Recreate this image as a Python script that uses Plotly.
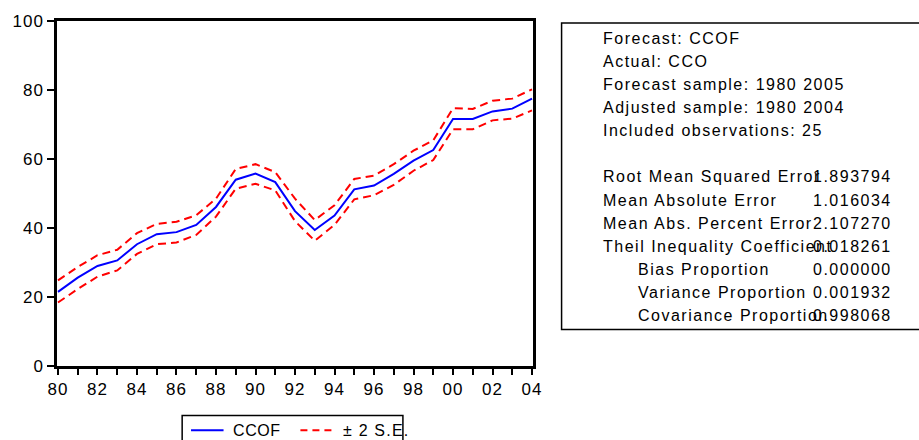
import plotly.graph_objects as go

# Forecast series and its +/- 2 standard error band
years = list(range(1980, 2005))
ccof = [21.5, 25.6, 29.0, 30.6, 35.3, 38.2, 38.8, 40.9, 46.1, 54.0, 55.8, 53.3, 44.9,
        39.4, 43.6, 51.2, 52.3, 55.7, 59.5, 62.6, 71.6, 71.6, 73.8, 74.6, 77.5]
upper = [24.8, 28.7, 32.1, 33.7, 38.5, 41.2, 41.8, 43.7, 48.5, 57.1, 58.5, 56.2, 48.5,
         42.3, 46.6, 54.2, 55.2, 58.5, 62.4, 65.4, 74.7, 74.5, 76.9, 77.5, 80.2]
lower = [18.4, 22.3, 25.9, 27.7, 32.5, 35.3, 35.8, 38.0, 43.3, 51.4, 52.8, 50.9, 42.0,
         36.3, 40.9, 48.3, 49.5, 52.5, 56.6, 59.7, 68.6, 68.6, 71.2, 71.7, 74.1]

y_ticks = [0, 20, 40, 60, 80, 100]
x_tick_labels = [str(y)[2:] if y % 2 == 0 else "" for y in years]

header_lines = [
    "Forecast: CCOF",
    "Actual: CCO",
    "Forecast sample: 1980 2005",
    "Adjusted sample: 1980 2004",
    "Included observations: 25",
]
stat_labels = [
    "Root Mean Squared Error",
    "Mean Absolute Error",
    "Mean Abs. Percent Error",
    "Theil Inequality Coefficient",
    "Bias Proportion",
    "Variance Proportion",
    "Covariance Proportion",
]
stat_indent = [False, False, False, False, True, True, True]
stat_values = ["1.893794", "1.016034", "2.107270", "0.018261",
               "0.000000", "0.001932", "0.998068"]

FONT = "Liberation Sans, Arial, sans-serif"
RED_DASH = "8px,5px"

# plot area in pixels
L, R, T, B = 50, 533, 17, 366
W_FIG, H_FIG = 919, 440


def px(x):
    return (x - L) / (R - L)


def py(y):
    return (B - y) / (B - T)


def spaced(s, ls=1.5):
    return f'<span style="letter-spacing:{ls}px">{s}</span>'


fig = go.Figure()
fig.add_trace(go.Scatter(x=years, y=upper, mode="lines", name="± 2 S.E.",
                         line=dict(color="#ff0000", width=2, dash=RED_DASH)))
fig.add_trace(go.Scatter(x=years, y=lower, mode="lines", name="± 2 S.E.",
                         line=dict(color="#ff0000", width=2, dash=RED_DASH)))
fig.add_trace(go.Scatter(x=years, y=ccof, mode="lines", name="CCOF",
                         line=dict(color="#0000ff", width=2)))

shapes = []
annotations = []
text_font = dict(family=FONT, size=16, color="black")

# statistics box
shapes.append(dict(type="rect", xref="paper", yref="paper",
                   x0=px(562), x1=px(930), y0=py(329), y1=py(19),
                   line=dict(color="black", width=1.5), fillcolor="rgba(0,0,0,0)"))

line_y0, line_step = 35, 23.3
for i, txt in enumerate(header_lines):
    annotations.append(dict(xref="paper", yref="paper", x=px(602), y=py(line_y0 + i * line_step),
                            xanchor="left", yanchor="middle", showarrow=False,
                            text=spaced(txt), font=text_font))
for i, (lab, ind, val) in enumerate(zip(stat_labels, stat_indent, stat_values)):
    yy = py(line_y0 + (i + 6) * line_step)
    annotations.append(dict(xref="paper", yref="paper", x=px(638 if ind else 602), y=yy,
                            xanchor="left", yanchor="middle", showarrow=False,
                            text=spaced(lab), font=text_font))
    annotations.append(dict(xref="paper", yref="paper", x=px(899), y=yy,
                            xanchor="right", yanchor="middle", showarrow=False,
                            text=spaced(val), font=text_font))

# legend drawn below the chart
leg_y = 431
shapes.append(dict(type="rect", xref="paper", yref="paper",
                   x0=px(177), x1=px(401), y0=py(447), y1=py(416),
                   line=dict(color="black", width=1.5), fillcolor="rgba(0,0,0,0)"))
shapes.append(dict(type="line", xref="paper", yref="paper",
                   x0=px(186), x1=px(219), y0=py(leg_y), y1=py(leg_y),
                   line=dict(color="#0000ff", width=2)))
shapes.append(dict(type="line", xref="paper", yref="paper",
                   x0=px(297), x1=px(332), y0=py(leg_y), y1=py(leg_y),
                   line=dict(color="#ff0000", width=2, dash="7px,5px")))
annotations.append(dict(xref="paper", yref="paper", x=px(227), y=py(leg_y),
                        xanchor="left", yanchor="middle", showarrow=False,
                        text=spaced(fig.data[2].name, 0.6), font=text_font))
annotations.append(dict(xref="paper", yref="paper", x=px(338), y=py(leg_y),
                        xanchor="left", yanchor="middle", showarrow=False,
                        text=spaced(fig.data[0].name, 1.2), font=text_font))

fig.update_layout(
    width=W_FIG, height=H_FIG,
    margin=dict(l=L, r=W_FIG - R, t=T, b=H_FIG - B),
    paper_bgcolor="white", plot_bgcolor="white",
    showlegend=False,
    font=dict(family=FONT, size=16, color="black"),
    shapes=shapes, annotations=annotations,
)
fig.update_xaxes(range=[1979.95, 2004.05], tickvals=years,
                 ticktext=[spaced(t, 1) for t in x_tick_labels],
                 ticks="outside", ticklen=6, tickwidth=1.5, tickcolor="black",
                 showline=True, linewidth=2.5, linecolor="black", mirror=True,
                 showgrid=False, zeroline=False, tickfont=dict(size=17))
fig.update_yaxes(range=[0, 100], tickvals=y_ticks,
                 ticktext=[spaced(str(v), 1) for v in y_ticks],
                 ticks="outside", ticklen=7, tickwidth=1.5, tickcolor="black",
                 showline=True, linewidth=2.5, linecolor="black", mirror=True,
                 showgrid=False, zeroline=False, tickfont=dict(size=17))

fig.write_html("out.html")
